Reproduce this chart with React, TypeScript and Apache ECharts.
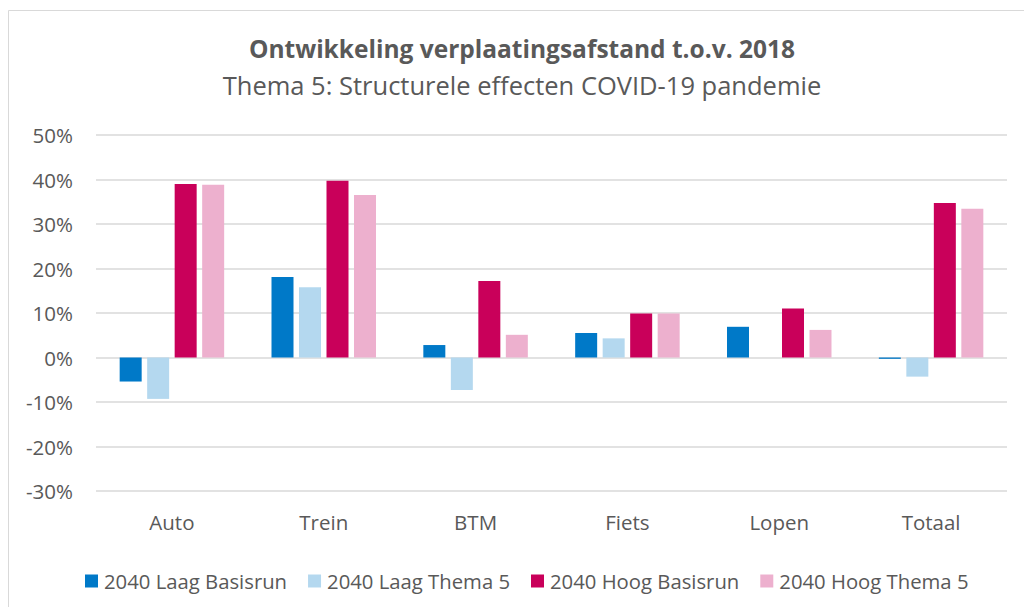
import React, { useEffect, useRef } from "react";
import * as echarts from "echarts";

const categories = ["Auto", "Trein", "BTM", "Fiets", "Lopen", "Totaal"];
const seriesNames = [
  "2040 Laag Basisrun",
  "2040 Laag Thema 5",
  "2040 Hoog Basisrun",
  "2040 Hoog Thema 5",
];
const laagBasisrun = [-5.4, 18.1, 2.8, 5.5, 6.9, -0.3];
const laagThema5 = [-9.3, 15.8, -7.3, 4.3, 0, -4.3];
const hoogBasisrun = [39.0, 39.7, 17.2, 9.9, 11.0, 34.7];
const hoogThema5 = [38.8, 36.5, 5.1, 9.9, 6.2, 33.4];
const seriesColors = ["#0079C8", "#B4D8EF", "#C9005A", "#EDB0CE"];
const yTicks = { min: -30, max: 50, interval: 10 };

const titleText = "Ontwikkeling verplaatingsafstand t.o.v. 2018";
const subtitleText = "Thema 5: Structurele effecten COVID-19 pandemie";

const FONT = "'Open Sans', 'Noto Sans', sans-serif";
const TEXT = "#595959";

export default function App() {
  const ref = useRef<HTMLDivElement>(null);
  useEffect(() => {
    if (!ref.current) return;
    const chart = echarts.init(ref.current, null, { renderer: "svg" });
    const values = [laagBasisrun, laagThema5, hoogBasisrun, hoogThema5];
    chart.setOption({
      animation: false,
      backgroundColor: "#ffffff",
      textStyle: { fontFamily: FONT },
      graphic: [
        {
          type: "rect",
          shape: { x: 8.5, y: 10.5, width: 1040, height: 640 },
          style: { fill: "none", stroke: "#D9D9D9", lineWidth: 1 },
          silent: true,
        },
        {
          type: "text",
          x: 522,
          y: 48,
          style: {
            text: titleText,
            fontFamily: FONT,
            fontSize: 24.5,
            fontWeight: "bold",
            fill: TEXT,
            align: "center",
            verticalAlign: "middle",
          },
        },
        {
          type: "text",
          x: 522,
          y: 85,
          style: {
            text: subtitleText,
            fontFamily: FONT,
            fontSize: 25.5,
            fill: TEXT,
            align: "center",
            verticalAlign: "middle",
          },
        },
      ],
      grid: { left: 96, right: 17, top: 135, bottom: 116, containLabel: false },
      legend: {
        data: seriesNames,
        left: 80,
        top: 566,
        itemWidth: 13,
        itemHeight: 13,
        itemGap: 21,
        icon: "rect",
        textStyle: {
          fontFamily: FONT,
          fontSize: 20.3,
          color: TEXT,
          padding: [0, 0, 0, 1],
        },
      },
      xAxis: {
        type: "category",
        data: categories,
        axisLine: { show: false },
        axisTick: { show: false },
        axisLabel: {
          fontFamily: FONT,
          fontSize: 20.5,
          color: TEXT,
          margin: 20,
        },
      },
      yAxis: {
        type: "value",
        min: yTicks.min,
        max: yTicks.max,
        interval: yTicks.interval,
        axisLine: { show: false },
        axisTick: { show: false },
        splitLine: { lineStyle: { color: "#D9D9D9", width: 1.5 } },
        axisLabel: {
          fontFamily: FONT,
          fontSize: 20.5,
          color: TEXT,
          margin: 23,
          formatter: (v: number) => `${v}%`,
        },
      },
      series: seriesNames.map((name, i) => ({
        name,
        type: "bar",
        data: values[i],
        barWidth: 22,
        barGap: "25%",
        itemStyle: { color: seriesColors[i] },
      })),
    });
    return () => chart.dispose();
  }, []);
  return (
    <div
      ref={ref}
      style={{ position: "fixed", left: 0, top: 0, width: 1024, height: 607 }}
    />
  );
}
